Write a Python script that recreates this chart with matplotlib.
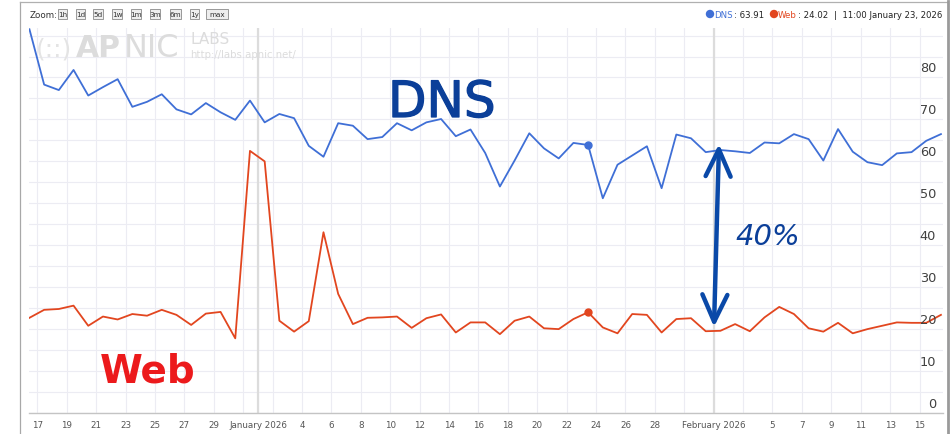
import matplotlib
matplotlib.use('Agg')
import matplotlib.pyplot as plt
import matplotlib.dates as mdates
import matplotlib.transforms as mtransforms
from matplotlib.patches import Rectangle, Ellipse, FancyArrowPatch
from matplotlib.lines import Line2D
import matplotlib.patheffects as pe
import pandas as pd

# ---------------- data ----------------
start = '2025-12-16 11:00'
dns = [91.5, 78.3, 77.0, 81.8, 75.7, 77.7, 79.6, 73.0, 74.2, 76.0, 72.4, 71.2, 73.9, 71.7, 69.9, 74.5,
       69.3, 71.3, 70.3, 63.7, 61.1, 69.1, 68.5, 65.3, 65.8, 69.1, 67.4, 69.3, 70.1, 66.0, 67.6, 62.0,
       54.0, 60.2, 66.7, 63.1, 60.7, 64.4, 63.91, 51.2, 59.2, 61.4, 63.6, 53.6, 66.4, 65.5, 62.2,
       62.7, 62.4, 62.0, 64.5, 64.3, 66.5, 65.3, 60.2, 67.7, 62.3, 59.8, 59.1, 61.9, 62.2, 64.9, 66.5]
web = [22.7, 24.6, 24.8, 25.6, 20.8, 23.0, 22.3, 23.6, 23.2, 24.6, 23.4, 21.0, 23.7, 24.1, 17.8, 62.5,
       60.0, 22.0, 19.4, 21.9, 43.1, 28.4, 21.2, 22.7, 22.8, 23.0, 20.3, 22.6, 23.5, 19.2, 21.6, 21.6,
       18.8, 22.0, 23.0, 20.2, 20.0, 22.4, 24.02, 20.4, 19.0, 23.6, 23.4, 19.2, 22.4, 22.6, 19.5,
       19.6, 21.2, 19.5, 22.8, 25.3, 23.6, 20.2, 19.4, 21.5, 19.0, 20.0, 20.8, 21.6, 21.5, 21.5, 23.4]
selected_index = 38

tick_dates = (['2025-12-%02d' % d for d in range(17, 32, 2)] + ['2026-01-01'] +
              ['2026-01-%02d' % d for d in range(2, 31, 2)] + ['2026-02-01'] +
              ['2026-02-%02d' % d for d in range(3, 16, 2)])
tick_labels = (['17', '19', '21', '23', '25', '27', '29', ''] + ['January 2026'] +
               ['', '4', '6', '8', '10', '12', '14', '16', '18', '20', '22', '24', '26', '28', ''] +
               ['February 2026'] + ['', '5', '7', '9', '11', '13', '15'])
month_dates = ['2026-01-01', '2026-02-01']
y_labels = [0, 10, 20, 30, 40, 50, 60, 70, 80]
y_grid = list(range(0, 95, 5))
zoom_buttons = ['1h', '1d', '5d', '1w', '1m', '3m', '6m', '1y', 'max']

DNS_C = '#3f6fd6'
WEB_C = '#e2461f'
INK_BLUE = '#0b3f99'
INK_RED = '#ec1a1c'

W, H = 950, 435
def fx(x):
    return x / W
def fy(y):
    return 1 - y / H

fig = plt.figure(figsize=(9.5, 4.35), dpi=100)
fig.patch.set_facecolor('white')
ax = fig.add_axes([fx(29), fy(414), (943 - 29) / W, (414 - 29) / H])
ax.set_facecolor('none')

x = mdates.date2num(pd.date_range(start, periods=len(dns), freq='D'))
ax.set_xlim(x[0] - 0.03, x[-1] + 0.14)
ax.set_ylim(0, 91.8)

# grid
for g in y_grid:
    ax.axhline(g, color='#ececf3', lw=0.8, zorder=0)
tx = mdates.date2num(pd.to_datetime(tick_dates))
for t in tx:
    ax.axvline(t, color='#ececf3', lw=0.8, zorder=0)
for m in mdates.date2num(pd.to_datetime(month_dates)):
    ax.axvline(m, color='#dcdcdc', lw=1.6, zorder=0)

ax.set_xticks(tx)
ax.set_xticklabels(tick_labels, fontsize=6.3, color='#555555', family='DejaVu Sans')
ax.tick_params(axis='x', length=0, pad=5)
ax.set_yticks([])
for s in ['top', 'left', 'right']:
    ax.spines[s].set_visible(False)
ax.spines['bottom'].set_color('#c4c4c4')
ax.spines['bottom'].set_linewidth(1.0)

# y labels inside, right
off = mtransforms.offset_copy(ax.get_yaxis_transform(), fig=fig, x=-3, y=2.3, units='points')
for v in y_labels:
    ax.text(0.997, v, str(v), transform=off, ha='right', va='bottom', fontsize=9.3,
            color='#404040', family='DejaVu Sans', zorder=5)

# watermark
wm = '#dcdcdc'
fig.text(fx(36), fy(56), '(::)', fontsize=18, color='#e4e4e4', family='DejaVu Sans')
fig.text(fx(76), fy(57), 'AP', fontsize=21.5, color=wm, weight='bold', family='DejaVu Sans')
fig.text(fx(124), fy(57), 'NIC', fontsize=23, color=wm, family='DejaVu Sans')
fig.text(fx(190), fy(44), 'LABS', fontsize=11, color=wm, family='DejaVu Sans')
fig.text(fx(190), fy(58), 'http://labs.apnic.net/', fontsize=7.3, color=wm, family='DejaVu Sans')

# data
ax.plot(x, dns, color=DNS_C, lw=1.3, zorder=3)
ax.plot(x, web, color=WEB_C, lw=1.3, zorder=3)
ax.plot([x[selected_index]], [dns[selected_index]], 'o', color=DNS_C, ms=5, zorder=4)
ax.plot([x[selected_index]], [web[selected_index]], 'o', color=WEB_C, ms=5, zorder=4)

# handwritten annotations
fig.text(fx(388), fy(118), 'DNS', fontsize=36, color=INK_BLUE, family='DejaVu Sans',
         path_effects=[pe.withStroke(linewidth=0.9, foreground=INK_BLUE)])
fig.text(fx(100), fy(383), 'Web', fontsize=28, color=INK_RED, family='DejaVu Sans',
         weight='bold')
fig.text(fx(735), fy(245), '40%', fontsize=21, color=INK_BLUE, family='DejaVu Sans',
         style='italic')
fig.add_artist(FancyArrowPatch(
    (fx(719), fy(145)), (fx(714), fy(328)), transform=fig.transFigure,
    arrowstyle='<->,head_length=6.5,head_width=3.0', lw=3.2, color='#0a49a8',
    mutation_scale=3, capstyle='round', joinstyle='round', shrinkA=0, shrinkB=0))

# toolbar
fig.text(fx(30), fy(15), 'Zoom:', fontsize=6.3, color='#333333', va='center', family='DejaVu Sans')
bx = [58, 76, 93, 112, 131, 150, 170, 190, 206]
bw = [9, 9, 10, 10, 10, 10, 11, 9, 22]
for b, xx, ww in zip(zoom_buttons, bx, bw):
    fig.add_artist(Rectangle((fx(xx), fy(20)), ww / W, 10 / H, transform=fig.transFigure,
                             facecolor='#eeeeee', edgecolor='#8a8a8a', lw=0.6))
    fig.text(fx(xx + ww / 2), fy(15), b, fontsize=5.2, color='#333333', ha='center',
             va='center', family='DejaVu Sans')

# legend
fig.add_artist(Ellipse((fx(710), fy(15)), 7 / W, 7 / H, transform=fig.transFigure, color=DNS_C))
fig.text(fx(714), fy(15), 'DNS', fontsize=6.2, color=DNS_C, va='center', family='DejaVu Sans')
fig.text(fx(734), fy(15), ': %.2f' % dns[selected_index], fontsize=6.2, color='#222222',
         va='center', family='DejaVu Sans')
fig.add_artist(Ellipse((fx(774), fy(15)), 7 / W, 7 / H, transform=fig.transFigure, color=WEB_C))
fig.text(fx(778), fy(15), 'Web', fontsize=6.2, color=WEB_C, va='center', family='DejaVu Sans')
fig.text(fx(798), fy(15), ': %.2f' % web[selected_index], fontsize=6.2, color='#222222',
         va='center', family='DejaVu Sans')
fig.text(fx(834), fy(15), '|  11:00 January 23, 2026', fontsize=6.1, color='#222222',
         va='center', ha='left', family='DejaVu Sans')

# frame
fig.add_artist(Line2D([fx(20), fx(20)], [fy(3), 0], transform=fig.transFigure, color='#a8a8a8', lw=0.9))
fig.add_artist(Line2D([fx(20), fx(947)], [fy(3), fy(3)], transform=fig.transFigure, color='#b0b0b0', lw=0.9))
fig.add_artist(Line2D([fx(947.5), fx(947.5)], [fy(2), 0], transform=fig.transFigure, color='#9a9a9a', lw=2.0))

fig.savefig('out.png', dpi=100)
